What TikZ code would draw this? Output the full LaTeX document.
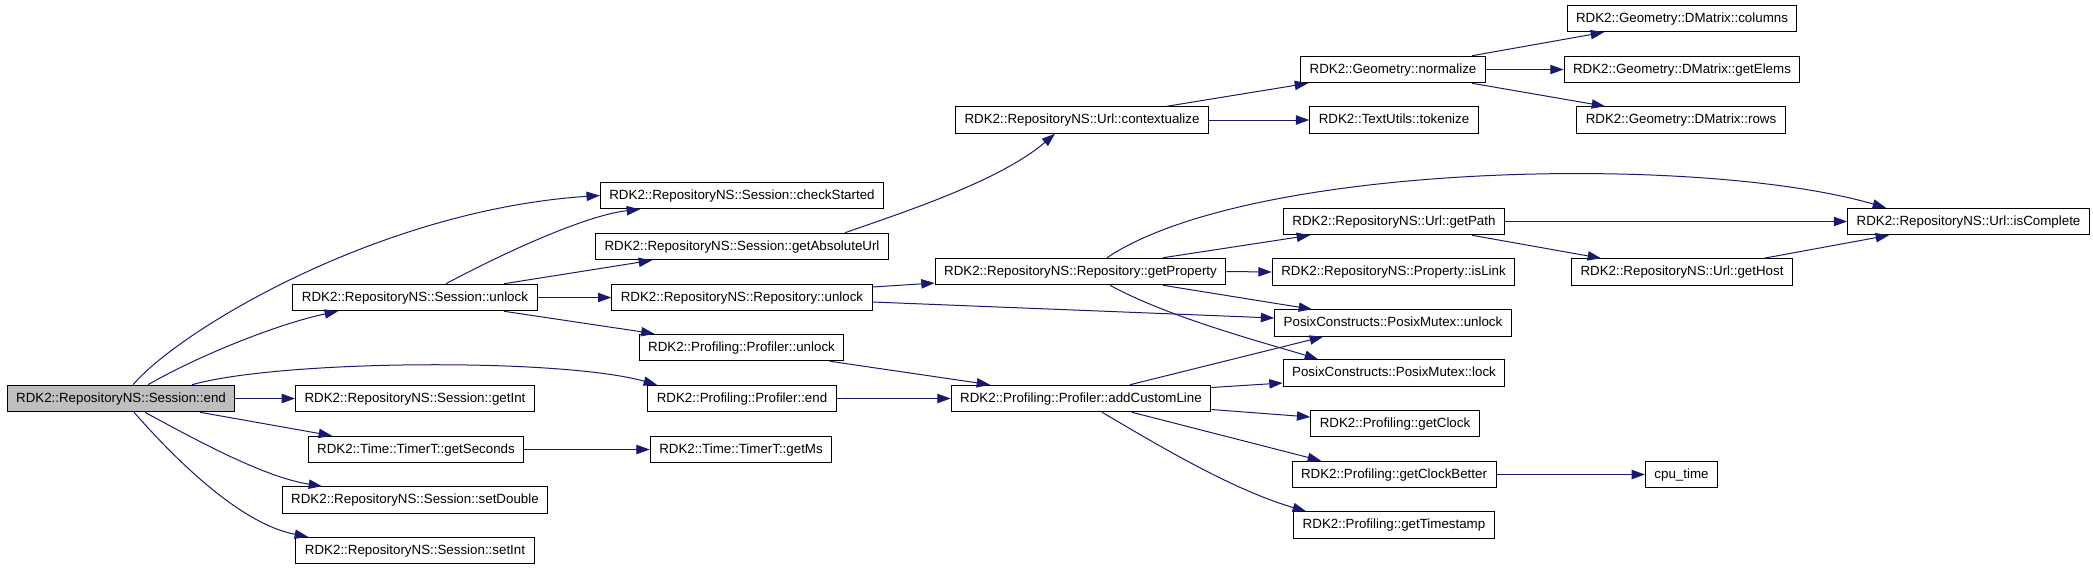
\documentclass[tikz,border=0pt]{standalone}
\usepackage{fontspec}
\setmainfont{Liberation Sans}
\usetikzlibrary{arrows.meta,calc}
\definecolor{edgeblue}{HTML}{191970}

\begin{document}
\begin{tikzpicture}[x=0.75pt,y=-0.75pt,
  fn/.style={draw, line width=0.75pt, minimum height=19.9pt, inner xsep=6.75pt,
    inner ysep=0pt, text height=7.4pt, text depth=2.1pt, font=\fontsize{10}{12}\selectfont},
  call/.style={draw=edgeblue, line width=0.75pt, -{Triangle[length=10pt,width=7pt]}}]
  \useasboundingbox (0,0) rectangle (2093,569);

  % Caller and its direct callees.
  \node[fn, fill=black!25] (send) at (121,398.5) {RDK2::RepositoryNS::Session::end};
  \node[fn] (sunlock) at (415,297.5) {RDK2::RepositoryNS::Session::unlock};
  \node[fn] (getint) at (415,398.5) {RDK2::RepositoryNS::Session::getInt};
  \node[fn] (getseconds) at (416,449.5) {RDK2::Time::TimerT::getSeconds};
  \node[fn] (setdouble) at (415,500) {RDK2::RepositoryNS::Session::setDouble};
  \node[fn] (setint) at (415,550.5) {RDK2::RepositoryNS::Session::setInt};

  % Second column.
  \node[fn] (checkstarted) at (742,195.5) {RDK2::RepositoryNS::Session::checkStarted};
  \node[fn] (getabsurl) at (742,246.5) {RDK2::RepositoryNS::Session::getAbsoluteUrl};
  \node[fn] (runlock) at (742,297.5) {RDK2::RepositoryNS::Repository::unlock};
  \node[fn] (punlock) at (741.5,347.5) {RDK2::Profiling::Profiler::unlock};
  \node[fn] (pend) at (742,398.5) {RDK2::Profiling::Profiler::end};
  \node[fn] (getms) at (741,449.5) {RDK2::Time::TimerT::getMs};

  % Third column.
  \node[fn] (contextualize) at (1082,120) {RDK2::RepositoryNS::Url::contextualize};
  \node[fn] (getproperty) at (1080.5,271.5) {RDK2::RepositoryNS::Repository::getProperty};
  \node[fn] (addline) at (1081,398.5) {RDK2::Profiling::Profiler::addCustomLine};

  % Fourth column.
  \node[fn] (normalize) at (1393,69.5) {RDK2::Geometry::normalize};
  \node[fn] (tokenize) at (1394,120) {RDK2::TextUtils::tokenize};
  \node[fn] (getpath) at (1394,221.5) {RDK2::RepositoryNS::Url::getPath};
  \node[fn] (islink) at (1393.5,272) {RDK2::RepositoryNS::Property::isLink};
  \node[fn] (pmunlock) at (1393,323) {PosixConstructs::PosixMutex::unlock};
  \node[fn] (pmlock) at (1394,373) {PosixConstructs::PosixMutex::lock};
  \node[fn] (getclock) at (1395,423.5) {RDK2::Profiling::getClock};
  \node[fn] (getclockbetter) at (1394,474.5) {RDK2::Profiling::getClockBetter};
  \node[fn] (gettimestamp) at (1394,525) {RDK2::Profiling::getTimestamp};

  % Fifth and sixth columns.
  \node[fn] (columns) at (1682,18.5) {RDK2::Geometry::DMatrix::columns};
  \node[fn] (getelems) at (1682,69.5) {RDK2::Geometry::DMatrix::getElems};
  \node[fn] (rows) at (1681,120) {RDK2::Geometry::DMatrix::rows};
  \node[fn] (gethost) at (1682,272) {RDK2::RepositoryNS::Url::getHost};
  \node[fn] (cputime) at (1681.5,474.5) {cpu\_time};
  \node[fn] (iscomplete) at (1968.5,221.5) {RDK2::RepositoryNS::Url::isComplete};

  % Calls from Session::end.
  \draw[call] ($(send.north)+(12,0)$) .. controls +(47,-55) and +(-220,14.5) .. (checkstarted.west);
  \draw[call] ($(send.north)+(27,0)$) .. controls +(52,-30) and +(-58,12) .. ($(sunlock.south)+(-77,0)$);
  \draw[call] ($(send.north)+(71,0)$) .. controls +(88,-25) and +(-97,-27) .. ($(pend.north)+(-85,0)$);
  \draw[call] ($(send.south)+(79,0)$) -- ($(getseconds.north)+(-84,0)$);
  \draw[call] ($(send.south)+(24,0)$) .. controls +(55,30) and +(-57,-9) .. ($(setdouble.north)+(-93,0)$);
  \draw[call] ($(send.south)+(13,0)$) .. controls +(51,58) and +(-63,-12) .. ($(setint.north)+(-107,0)$);

  % Calls from Session::unlock.
  \draw[call] ($(sunlock.north)+(31,0)$) .. controls +(54,-29) and +(-55,6) .. ($(checkstarted.south)+(-102,0)$);
  \draw[call] ($(sunlock.north)+(89,0)$) -- ($(getabsurl.south)+(-90,0)$);
  \draw[call] ($(sunlock.south)+(89,0)$) -- ($(punlock.north)+(-87,0)$);
  \draw[call] ($(getabsurl.north)+(103,0)$) .. controls +(60,-21) and +(-55,47) .. ($(contextualize.south)+(-27,0)$);

  % Url and geometry calls.
  \draw[call] ($(contextualize.north)+(85,0)$) -- ($(normalize.south)+(-85,0)$);
  \draw[call] ($(normalize.north)+(79,0)$) -- ($(columns.south)+(-78,0)$);
  \draw[call] ($(normalize.south)+(79,0)$) -- ($(rows.north)+(-76,0)$);

  % Repository calls.
  \draw[call] ($(runlock.east)+(0,-10.5)$) -- ($(getproperty.west)+(0,11.5)$);
  \draw[call] ($(runlock.east)+(0,4.5)$) -- ($(pmunlock.west)+(0,-5)$);
  \draw[call] ($(getproperty.north)+(26.5,0)$) .. controls +(143,-96) and +(-186,-54) .. ($(iscomplete.north)+(-82.5,0)$);
  \draw[call] ($(getproperty.north)+(82.5,0)$) -- ($(getpath.south)+(-84,0)$);
  \draw[call] ($(getproperty.south)+(82.5,0)$) -- ($(pmunlock.north)+(-81,0)$);
  \draw[call] ($(getproperty.south)+(29.5,0)$) .. controls +(60,33) and +(-48,-15) .. ($(pmlock.north)+(-76,0)$);
  \draw[call] ($(getpath.south)+(78,0)$) -- ($(gethost.north)+(-81,0)$);
  \draw[call] ($(gethost.north)+(82,0)$) -- ($(iscomplete.south)+(-79.5,0)$);

  % Profiler calls.
  \draw[call] ($(punlock.south)+(88.5,0)$) -- ($(addline.north)+(-91,0)$);
  \draw[call] ($(addline.north)+(49,0)$) -- ($(pmunlock.south)+(-70,0)$);
  \draw[call] ($(addline.east)+(0,-11)$) -- ($(pmlock.west)+(0,10)$);
  \draw[call] ($(addline.east)+(0,11)$) -- ($(getclock.west)+(0,-6.5)$);
  \draw[call] ($(addline.south)+(51,0)$) -- ($(getclockbetter.north)+(-73,0)$);
  \draw[call] ($(addline.south)+(21,0)$) .. controls +(48,28) and +(-76,-22) .. ($(gettimestamp.north)+(-88,0)$);

  % Straight calls, east to west.
  \foreach \a/\b in {send/getint, sunlock/runlock, getseconds/getms, pend/addline,
      contextualize/tokenize, normalize/getelems, getproperty/islink,
      getpath/iscomplete, getclockbetter/cputime}
    \draw[call] (\a.east) -- (\b.west);
\end{tikzpicture}
\end{document}
